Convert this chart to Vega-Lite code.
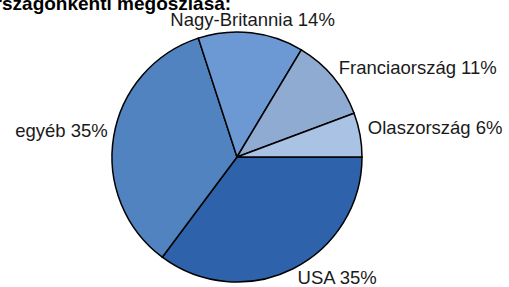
{
  "$schema": "https://vega.github.io/schema/vega-lite/v6.json",
  "autosize": "none",
  "width": 474,
  "height": 260,
  "padding": {"left": 0, "top": 27, "right": 35, "bottom": 0},
  "background": "white",
  "title": {
    "text": "országonkénti megoszlása:",
    "anchor": "start",
    "frame": "group",
    "orient": "top",
    "offset": -12,
    "baseline": "alphabetic",
    "dy": 6,
    "dx": -17,
    "font": "Liberation Sans",
    "fontSize": 19,
    "fontWeight": "bold",
    "color": "#000000"
  },
  "data": {
    "values": [
      {"idx": 1, "country": "USA", "share": 35.2, "label": "USA 35%"},
      {"idx": 2, "country": "egyéb", "share": 34.8, "label": "egyéb 35%"},
      {"idx": 3, "country": "Nagy-Britannia", "share": 13.6, "label": "Nagy-Britannia 14%"},
      {"idx": 4, "country": "Franciaország", "share": 10.7, "label": "Franciaország 11%"},
      {"idx": 5, "country": "Olaszország", "share": 5.7, "label": "Olaszország 6%"}
    ]
  },
  "transform": [
    {"stack": "share", "groupby": [], "sort": [{"field": "idx", "order": "ascending"}], "as": ["t0", "t1"]},
    {"calculate": "(datum.t0 + datum.t1) / 2", "as": "mid"}
  ],
  "layer": [
    {
      "mark": {"type": "arc", "outerRadius": 125, "stroke": "#000000", "strokeWidth": 1.5},
      "encoding": {
        "theta": {"field": "t0", "type": "quantitative", "stack": null, "scale": {"domain": [0, 100], "range": [1.5707963, 7.8539816], "zero": false, "nice": false}},
        "theta2": {"field": "t1"},
        "color": {
          "field": "country",
          "type": "nominal",
          "legend": null,
          "scale": {
            "domain": ["USA", "egyéb", "Nagy-Britannia", "Franciaország", "Olaszország"],
            "range": ["#2E63AB", "#5083C0", "#6C98D3", "#8FABD2", "#AAC2E3"]
          }
        }
      }
    },
    {
      "transform": [{"filter": "datum.country === 'USA'"}],
      "mark": {"type": "text", "radius": 135, "align": "left", "baseline": "middle", "font": "Liberation Sans", "fontSize": 18.5, "color": "#1a1a1a"},
      "encoding": {
        "theta": {"field": "mid", "type": "quantitative", "stack": null},
        "text": {"field": "label"}
      }
    },
    {
      "transform": [{"filter": "datum.country === 'Franciaország'"}],
      "mark": {"type": "text", "radius": 135, "align": "left", "baseline": "middle", "dx": -2, "dy": -3, "font": "Liberation Sans", "fontSize": 18.5, "color": "#1a1a1a"},
      "encoding": {
        "theta": {"field": "mid", "type": "quantitative", "stack": null},
        "text": {"field": "label"}
      }
    },
    {
      "transform": [{"filter": "datum.country === 'Olaszország'"}],
      "mark": {"type": "text", "radius": 135, "align": "left", "baseline": "middle", "dx": -2, "dy": -5, "font": "Liberation Sans", "fontSize": 18.5, "color": "#1a1a1a"},
      "encoding": {
        "theta": {"field": "mid", "type": "quantitative", "stack": null},
        "text": {"field": "label"}
      }
    },
    {
      "transform": [{"filter": "datum.country === 'Nagy-Britannia'"}],
      "mark": {"type": "text", "radius": 138, "align": "center", "baseline": "middle", "font": "Liberation Sans", "fontSize": 18.5, "color": "#1a1a1a"},
      "encoding": {
        "theta": {"field": "mid", "type": "quantitative", "stack": null},
        "text": {"field": "label"}
      }
    },
    {
      "transform": [{"filter": "datum.country === 'egyéb'"}],
      "mark": {"type": "text", "radius": 135, "align": "right", "baseline": "middle", "dx": 4, "dy": -4, "font": "Liberation Sans", "fontSize": 18.5, "color": "#1a1a1a"},
      "encoding": {
        "theta": {"field": "mid", "type": "quantitative", "stack": null},
        "text": {"field": "label"}
      }
    }
  ]
}
